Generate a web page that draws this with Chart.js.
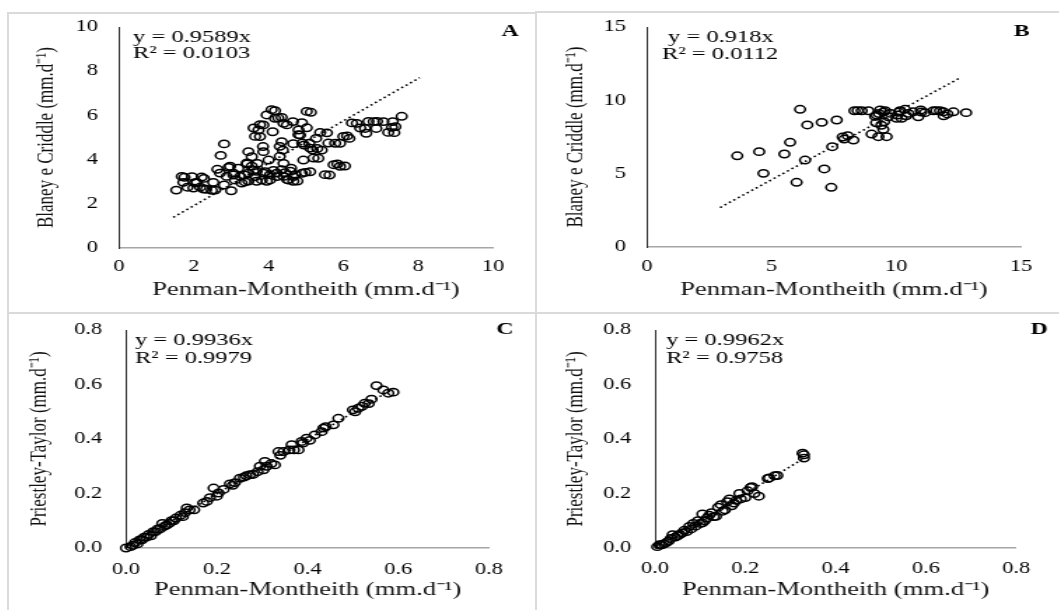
<!DOCTYPE html>
<html>
<head>
<meta charset="utf-8">
<title>ETo - comparação de métodos</title>
<script src="https://cdn.jsdelivr.net/npm/chart.js@4.4.1/dist/chart.umd.min.js"></script>
<style>
  html, body { margin: 0; padding: 0; background: #fff; }
  body { position: relative; width: 1059px; height: 610px; overflow: hidden; }
  .panel { position: absolute; overflow: hidden; }
  /* a figura original foi esticada na horizontal */
  .panel canvas { position: absolute; left: 0; top: 0; transform: scaleX(1.4); transform-origin: 0 0; }
  .rule { position: absolute; background: #dadada; z-index: 2; }
</style>
</head>
<body>

<div class="panel" id="pA" style="left:8px;top:12px;width:528px;height:301px"><canvas id="cA"></canvas></div>
<div class="panel" id="pB" style="left:536px;top:12px;width:523px;height:301px"><canvas id="cB"></canvas></div>
<div class="panel" id="pC" style="left:8px;top:313px;width:528px;height:297px"><canvas id="cC"></canvas></div>
<div class="panel" id="pD" style="left:536px;top:313px;width:523px;height:297px"><canvas id="cD"></canvas></div>

<div class="rule" style="left:7px;top:12px;width:2px;height:598px"></div>
<div class="rule" style="left:7px;top:12px;width:530px;height:2px"></div>
<div class="rule" style="left:536px;top:11px;width:523px;height:2px"></div>
<div class="rule" style="left:535px;top:11px;width:2px;height:599px"></div>
<div class="rule" style="left:7px;top:312px;width:1052px;height:2px"></div>

<script>
// --- dados: [Penman-Montheith, método] ---
const pointsA = [
  [1.53,2.62],[1.75,3.2],[1.83,2.75],[1.95,3.23],[2.03,2.95],[2.17,2.75],[2.27,3.15],[2.33,2.66],
  [2.57,2.62],[2.63,3.56],[2.72,4.19],[2.81,4.71],[2.81,2.85],[2.93,3.65],[3.0,2.59],[3.06,3.3],
  [3.1,3.08],[3.19,3.61],[3.28,2.94],[3.35,3.3],[3.42,3.8],[3.46,4.36],[3.55,4.13],[3.46,3.03],
  [3.6,3.51],[3.64,3.23],[3.7,3.83],[3.73,5.34],[3.77,5.04],[3.85,4.59],[3.86,4.36],[3.86,5.57],
  [3.82,3.08],[3.91,3.45],[3.95,6.02],[4.0,3.98],[4.04,3.08],[4.11,5.26],[4.17,6.21],[4.17,5.87],
  [4.13,3.51],[4.22,3.23],[4.35,5.91],[4.35,4.81],[4.38,4.43],[4.4,3.83],[4.4,5.64],[4.49,5.57],
  [4.44,3.41],[4.53,3.08],[4.6,3.61],[4.65,5.72],[4.66,3.23],[4.77,3.03],[4.8,5.34],[4.84,5.11],
  [4.89,5.67],[4.89,3.38],[4.93,3.98],[4.95,4.66],[5.02,5.44],[5.09,4.74],[5.13,6.14],[5.11,3.45],
  [5.18,4.43],[5.27,4.96],[5.33,4.06],[5.42,4.43],[5.56,5.21],[5.63,3.3],[5.78,4.74],[5.84,3.8],
  [5.91,4.74],[6.04,3.71],[6.1,5.07],[6.16,4.96],[6.36,5.64],[6.58,5.41],[6.61,5.19],[6.81,5.72],
  [6.88,5.41],[7.07,5.72],[7.32,5.72],[7.39,5.49],[7.36,5.22],[7.56,5.96],
  [1.68,3.24],[1.72,2.97],[1.99,2.71],[2.08,2.97],[2.21,3.21],[2.26,2.67],[2.48,2.61],[2.52,2.97],
  [2.7,3.39],[2.88,3.24],[2.97,3.7],[3.06,3.39],[3.24,3.24],[3.37,2.99],[3.46,3.39],[3.55,3.7],
  [3.68,3.47],[3.68,3.02],[3.86,3.39],[3.95,3.02],[4.04,3.32],[4.22,3.39],[4.35,3.54],[4.4,3.24],
  [4.58,3.47],[4.71,3.32],[3.42,3.85],[4.3,4.6],[4.3,4.15],[5.11,4.52],[4.98,3.42],[4.66,3.02],
  [4.5,3.09],[5.2,4.07],[5.3,4.5],[4.66,4.72],[4.9,4.75],[5.74,3.77],[5.91,3.7],[5.51,3.32],
  [6.0,5.05],[6.23,5.66],[6.45,5.43],[6.67,5.73],[6.9,5.73],[7.2,5.23],[7.3,5.46],[3.6,5.43],
  [3.64,5.05],[3.77,5.58],[4.08,6.26],[4.26,5.88],[5.02,6.18],[4.8,5.13],[5.38,5.23],[5.6,4.75]
];
const pointsB = [
  [3.62,6.22],[4.5,6.5],[4.67,5.02],[5.51,6.34],[5.74,7.14],[6.0,4.41],[6.14,9.39],[6.34,5.93],
  [6.43,8.32],[7.01,8.5],[7.11,5.32],[7.39,4.07],[7.43,6.84],[7.61,8.66],[7.91,7.36],[8.05,7.59],
  [8.28,7.29],[8.32,9.29],[8.61,9.29],[8.88,9.29],[9.01,7.7],[9.19,8.47],[9.21,9.0],[9.28,7.52],
  [9.35,9.34],[9.48,8.02],[9.51,8.54],[9.55,9.29],[9.61,7.52],[9.68,8.88],[9.77,9.11],[10.01,8.77],
  [10.15,9.29],[10.21,8.77],[10.35,9.39],[10.48,9.11],[10.68,9.22],[10.88,8.88],[10.98,9.34],
  [11.15,9.16],[11.49,9.29],[11.75,9.29],[11.89,9.22],[12.05,9.07],[12.29,9.22],[12.8,9.16],
  [8.45,9.3],[9.3,9.1],[9.15,8.9],[9.4,8.3],[10.1,9.2],[10.4,8.95],[11.0,9.2],[11.6,9.3],
  [11.9,8.95],[7.85,7.5],[9.5,9.2],[10.05,9.0]
];
const pointsC = [
  [0.0,0.0],[0.01,0.005],[0.015,0.01],[0.02,0.02],[0.025,0.015],[0.03,0.03],[0.035,0.03],[0.04,0.04],
  [0.045,0.04],[0.05,0.05],[0.055,0.045],[0.06,0.06],[0.065,0.06],[0.07,0.07],[0.075,0.07],[0.08,0.09],
  [0.085,0.08],[0.09,0.085],[0.095,0.09],[0.1,0.1],[0.105,0.1],[0.11,0.11],[0.12,0.12],[0.125,0.115],
  [0.13,0.13],[0.134,0.147],[0.14,0.14],[0.15,0.14],[0.17,0.165],[0.178,0.171],[0.185,0.185],[0.193,0.22],
  [0.2,0.19],[0.204,0.202],[0.215,0.215],[0.229,0.235],[0.235,0.23],[0.24,0.24],[0.251,0.256],[0.26,0.26],
  [0.265,0.265],[0.273,0.269],[0.28,0.27],[0.29,0.28],[0.295,0.3],[0.303,0.287],[0.306,0.318],[0.31,0.3],
  [0.32,0.31],[0.328,0.305],[0.336,0.354],[0.34,0.34],[0.347,0.354],[0.36,0.36],[0.365,0.379],[0.37,0.36],
  [0.38,0.36],[0.387,0.391],[0.39,0.385],[0.398,0.403],[0.405,0.395],[0.416,0.415],[0.431,0.427],[0.435,0.44],
  [0.44,0.445],[0.457,0.452],[0.468,0.476],[0.5,0.507],[0.505,0.5],[0.512,0.513],[0.52,0.52],[0.526,0.531],
  [0.535,0.53],[0.541,0.546],[0.552,0.596],[0.567,0.58],[0.578,0.568],[0.589,0.572]
];
const pointsD = [
  [0.005,0.005],[0.01,0.012],[0.015,0.012],[0.02,0.015],[0.025,0.02],[0.03,0.025],[0.035,0.035],[0.039,0.049],
  [0.045,0.04],[0.05,0.045],[0.055,0.05],[0.06,0.055],[0.065,0.065],[0.07,0.06],[0.076,0.079],[0.08,0.07],
  [0.085,0.09],[0.09,0.08],[0.095,0.1],[0.1,0.09],[0.105,0.125],[0.105,0.092],[0.11,0.1],[0.115,0.11],
  [0.12,0.12],[0.125,0.13],[0.13,0.115],[0.135,0.116],[0.14,0.15],[0.146,0.159],[0.15,0.135],[0.155,0.14],
  [0.16,0.17],[0.165,0.18],[0.17,0.155],[0.175,0.165],[0.18,0.175],[0.187,0.2],[0.19,0.18],[0.2,0.185],
  [0.205,0.21],[0.212,0.222],[0.215,0.225],[0.22,0.2],[0.23,0.19],[0.25,0.255],[0.253,0.257],[0.265,0.265],
  [0.271,0.266],[0.327,0.348],[0.33,0.33],[0.33,0.342]
];

// linhas de tendência (extremos)
const trendA = [[1.45,1.39],[8.04,7.71]];
const trendB = [[2.93,2.69],[12.6,11.57]];
const trendC = [[0.0,0.0],[0.59,0.586]];
const trendD = [[0.0,0.0],[0.33,0.329]];

const ticksA = [0, 2, 4, 6, 8, 10];
const ticksB = [0, 5, 10, 15];
const ticksCD = [0, 0.2, 0.4, 0.6, 0.8];

const eqA = ['y = 0.9589x', 'R² = 0.0103'];
const eqB = ['y = 0.918x', 'R² = 0.0112'];
const eqC = ['y = 0.9936x', 'R² = 0.9979'];
const eqD = ['y = 0.9962x', 'R² = 0.9758'];

const xTitle = 'Penman-Montheith (mm.d⁻¹)';
const serif = '"Liberation Serif", "Times New Roman", serif';

Chart.defaults.font.family = serif;
Chart.defaults.color = '#111';

// texto da equação e letra do painel
const panelText = {
  id: 'panelText',
  afterDraw(chart, args, o) {
    const { ctx, chartArea } = chart;
    ctx.save();
    ctx.fillStyle = '#000';
    ctx.textBaseline = 'middle';
    ctx.textAlign = 'left';
    ctx.font = '17.5px ' + serif;
    o.lines.forEach((t, i) => ctx.fillText(t, chartArea.left + o.eqX[i], chartArea.top + o.eqY[i]));
    ctx.font = 'bold 17px ' + serif;
    ctx.textAlign = 'center';
    ctx.fillText(o.label, o.labelX, o.labelY);
    ctx.restore();
  }
};

function makeChart(id, p) {
  const canvas = document.getElementById(id);
  canvas.width = p.w;
  canvas.height = p.h;
  const fmt = v => p.decimals ? Number(v).toFixed(p.decimals) : String(v);

  return new Chart(canvas, {
    type: 'scatter',
    data: {
      datasets: [
        {
          data: p.points.map(([x, y]) => ({ x, y })),
          pointStyle: 'circle',
          pointRadius: 3.7,
          pointBorderWidth: 1.5,
          borderColor: '#000',
          backgroundColor: 'rgba(0,0,0,0)',
          clip: false
        },
        {
          data: p.trend.map(([x, y]) => ({ x, y })),
          showLine: true,
          borderColor: '#000',
          borderWidth: 1.6,
          borderDash: [1.6, 2.4],
          pointRadius: 0,
          clip: false
        }
      ]
    },
    options: {
      responsive: false,
      animation: false,
      devicePixelRatio: 1,
      layout: { padding: { left: 0, top: p.top, right: p.w - p.right, bottom: 0 } },
      plugins: {
        legend: { display: false },
        tooltip: { enabled: false },
        panelText: { lines: p.eq, eqX: p.eqX, eqY: p.eqY, label: p.label, labelX: p.labelX, labelY: p.labelY }
      },
      scales: {
        x: {
          type: 'linear',
          min: p.xTicks[0],
          max: p.xTicks[p.xTicks.length - 1],
          grid: { display: false, drawTicks: false },
          border: { display: true, color: '#a6a6a6', width: 1.5 },
          afterBuildTicks: s => { s.ticks = p.xTicks.map(v => ({ value: v })); },
          afterFit: s => { s.height = p.h - p.bottom; s.paddingLeft = 0; s.paddingRight = 0; },
          ticks: { padding: p.xTickPad, maxRotation: 0, font: { size: 16 }, color: '#000', callback: fmt },
          title: { display: true, text: xTitle, font: { size: 19 }, color: '#111', padding: { top: 0, bottom: p.xTitlePad } }
        },
        y: {
          type: 'linear',
          min: p.yTicks[0],
          max: p.yTicks[p.yTicks.length - 1],
          grid: { display: false, drawTicks: false },
          border: { display: true, color: '#262626', width: 1 },
          afterBuildTicks: s => { s.ticks = p.yTicks.map(v => ({ value: v })); },
          afterFit: s => { s.width = p.left; s.paddingTop = 0; s.paddingBottom = 0; },
          ticks: { padding: p.yTickPad, font: { size: 16 }, color: '#000', callback: fmt },
          title: { display: true, text: p.yTitle, font: { size: 17 }, color: '#111', padding: { top: p.yTitlePad, bottom: 0 } }
        }
      }
    },
    plugins: [panelText]
  });
}

makeChart('cA', {
  w: 377, h: 301, left: 79.3, right: 346.4, top: 15, bottom: 236,
  points: pointsA, trend: trendA, xTicks: ticksA, yTicks: ticksA, decimals: 0,
  yTitle: 'Blaney e Criddle (mm.d⁻¹)', yTickPad: 15, xTickPad: 9.5, xTitlePad: 12, yTitlePad: 17.5,
  eq: eqA, eqX: [10, 10], eqY: [10, 26.5], label: 'A', labelX: 358.6, labelY: 20
});
makeChart('cB', {
  w: 374, h: 301, left: 79.3, right: 346.4, top: 15, bottom: 235,
  points: pointsB, trend: trendB, xTicks: ticksB, yTicks: ticksB, decimals: 0,
  yTitle: 'Blaney e Criddle (mm.d⁻¹)', yTickPad: 15, xTickPad: 10.5, xTitlePad: 12, yTitlePad: 18.2,
  eq: eqB, eqX: [15, 10.7], eqY: [10, 27.5], label: 'B', labelX: 347, labelY: 20
});
makeChart('cC', {
  w: 377, h: 297, left: 84.3, right: 343.6, top: 17, bottom: 235,
  points: pointsC, trend: trendC, xTicks: ticksCD, yTicks: ticksCD, decimals: 1,
  yTitle: 'Priestley-Taylor (mm.d⁻¹)', yTickPad: 17, xTickPad: 12.5, xTitlePad: 9, yTitlePad: 12.3,
  eq: eqC, eqX: [6.4, 6.4], eqY: [10, 28], label: 'C', labelX: 355, labelY: 17
});
makeChart('cD', {
  w: 374, h: 297, left: 85, right: 342.9, top: 17, bottom: 235,
  points: pointsD, trend: trendD, xTicks: ticksCD, yTicks: ticksCD, decimals: 1,
  yTitle: 'Priestley-Taylor (mm.d⁻¹)', yTickPad: 17, xTickPad: 11.5, xTitlePad: 9, yTitlePad: 18.2,
  eq: eqD, eqX: [7.9, 7.9], eqY: [10, 28], label: 'D', labelX: 359.3, labelY: 17
});
</script>
</body>
</html>
